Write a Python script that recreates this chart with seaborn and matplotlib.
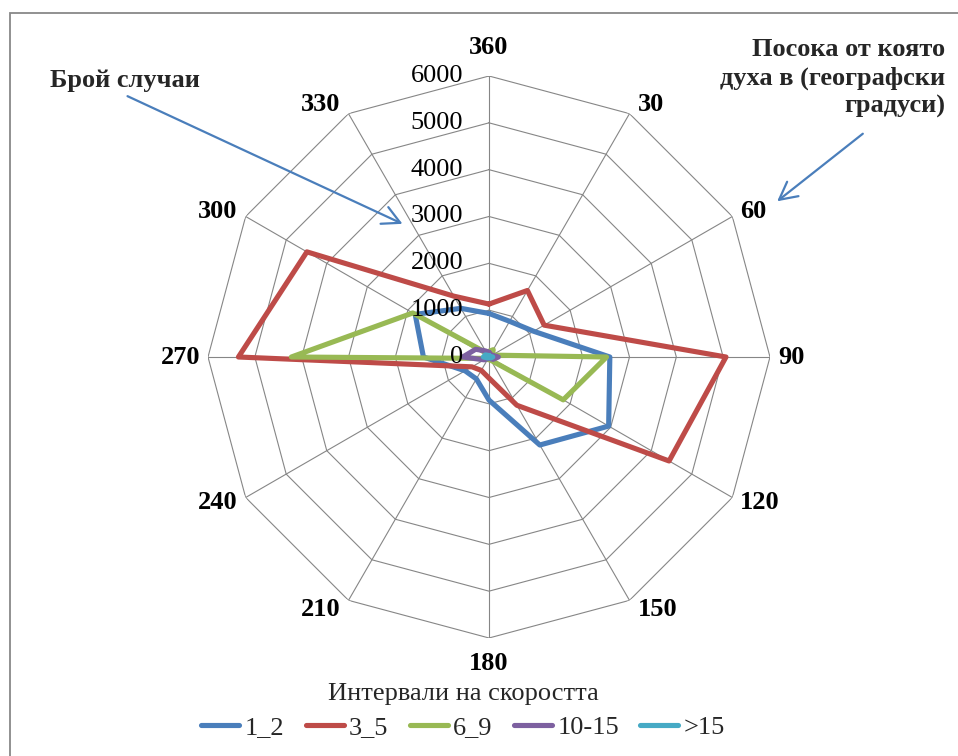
import numpy as np
import pandas as pd
import matplotlib
matplotlib.use("Agg")
import matplotlib.pyplot as plt
from matplotlib.patches import Rectangle
import seaborn as sns

# ---- data ----
directions = ['360', '30', '60', '90', '120', '150', '180', '210', '240', '270', '300', '330']
s_1_2   = [930, 880, 1100, 2580, 2950, 2170, 920, 540, 590, 1400, 1820, 1200]
s_3_5   = [1130, 1640, 1360, 5060, 4440, 1190, 450, 330, 420, 5350, 4490, 1500]
s_6_9   = [120, 180, 80, 2510, 1830, 80, 60, 60, 60, 4220, 1880, 100]
s_10_15 = [100, 60, 80, 200, 100, 40, 30, 40, 120, 560, 330, 150]
s_gt15  = [30, 20, 30, 80, 40, 15, 10, 15, 40, 120, 90, 40]
series_names = ['1_2', '3_5', '6_9', '10-15', '>15']
series_vals = [s_1_2, s_3_5, s_6_9, s_10_15, s_gt15]
colors = ['#4A7EBB', '#BE4B48', '#98B954', '#7D60A0', '#46AAC5']
r_ticks = [0, 1000, 2000, 3000, 4000, 5000, 6000]
r_max = 6000
legend_title = 'Интервали на скоростта'
ann_left = 'Брой случаи'
ann_right = 'Посока от която\nдуха в (географски\nградуси)'

# ---- long table (each polygon closed back to its first direction) ----
n = len(directions)
theta = np.deg2rad(np.arange(n) * 360.0 / n)
theta_closed = np.append(theta, 2 * np.pi)
rows = []
for name, vals in zip(series_names, series_vals):
    vals_closed = list(vals) + [vals[0]]
    for t, v in zip(theta_closed, vals_closed):
        rows.append({'series': name, 'theta': t, 'value': v})
df = pd.DataFrame(rows)

sns.set_theme(style='white')
plt.rcParams['font.family'] = ['Liberation Serif', 'DejaVu Serif']

W, H, DPI = 958, 756, 100
fig = plt.figure(figsize=(W / DPI, H / DPI), dpi=DPI)
cx, cy, R = 489, 357, 281
ax = fig.add_axes([(cx - R) / W, (H - cy - R) / H, 2 * R / W, 2 * R / H], projection='polar')
ax.set_theta_zero_location('N')
ax.set_theta_direction(-1)
ax.set_ylim(0, r_max)
ax.grid(False)
ax.set_xticks([])
ax.set_yticks([])
ax.spines['polar'].set_visible(False)
ax.patch.set_alpha(0)

# polygon grid
grid_c = '#868686'
for rv in r_ticks[1:]:
    ax.plot(theta_closed, [rv] * (n + 1), color=grid_c, lw=0.8, zorder=1)
for t in theta:
    ax.plot([t, t], [0, r_max], color=grid_c, lw=0.8, zorder=1)

sns.lineplot(data=df, x='theta', y='value', hue='series', hue_order=series_names,
             palette=colors, sort=False, estimator=None, lw=3.7, ax=ax, zorder=3,
             solid_joinstyle='round', solid_capstyle='round')
ax.set_xlabel('')
ax.set_ylabel('')

# radial tick labels
for rv in r_ticks:
    ax.annotate(str(rv), xy=(0, rv), xytext=(-26 * 0.72, 0), textcoords='offset points',
                ha='right', va='center', fontsize=19, color='black', zorder=5)

# direction labels
for t, lab in zip(theta, directions):
    s, c = np.sin(t), np.cos(t)
    if abs(s) < 0.1:
        ha = 'center'
        dx = 0
        dy = 29 if c > 0 else -25
    else:
        ha = 'left' if s > 0 else 'right'
        dx = 8 * np.sign(s)
        dy = 10 * c
    ax.annotate(lab, xy=(t, r_max), xytext=(dx * 0.72, dy * 0.72), textcoords='offset points',
                ha=ha, va='center', fontsize=19, fontweight='bold', color='black')

# legend
leg_ax_x = (463 - (cx - R)) / (2 * R)
leg_ax_y = ((H - 711) - (H - cy - R)) / (2 * R)
sns.move_legend(ax, 'center', bbox_to_anchor=(leg_ax_x, leg_ax_y), ncol=5, frameon=False,
                title=legend_title, fontsize=19, title_fontsize=19, handlelength=1.45,
                handletextpad=0.2, columnspacing=0.8, borderaxespad=0, labelspacing=0.42)
leg = ax.get_legend()
for h in leg.get_lines():
    h.set_linewidth(3.7)
    h.set_solid_capstyle('round')

# annotations
arrow_c = '#4A7EBB'
fig.text(50 / W, 1 - 80 / H, ann_left, ha='left', va='center', fontsize=19, fontweight='bold')
fig.text(945 / W, 1 - 78 / H, ann_right, ha='right', va='center', fontsize=19, fontweight='bold',
         multialignment='right', linespacing=1.3)
ax.annotate('', xy=(405, H - 225), xycoords='figure pixels', xytext=(125, H - 95),
            textcoords='figure pixels',
            arrowprops=dict(arrowstyle='->,head_length=1.05,head_width=0.55', color=arrow_c, lw=1.6))
ax.annotate('', xy=(775, H - 203), xycoords='figure pixels', xytext=(865, H - 132),
            textcoords='figure pixels',
            arrowprops=dict(arrowstyle='->,head_length=1.05,head_width=0.55', color=arrow_c, lw=1.6))

# chart frame
fig.patches.append(Rectangle((10 / W, -0.05), 1.2, 1 - 13 / H + 0.05, transform=fig.transFigure,
                             fill=False, edgecolor='#888888', lw=1.3, clip_on=False))

fig.savefig('out.png', dpi=DPI, facecolor='white')
